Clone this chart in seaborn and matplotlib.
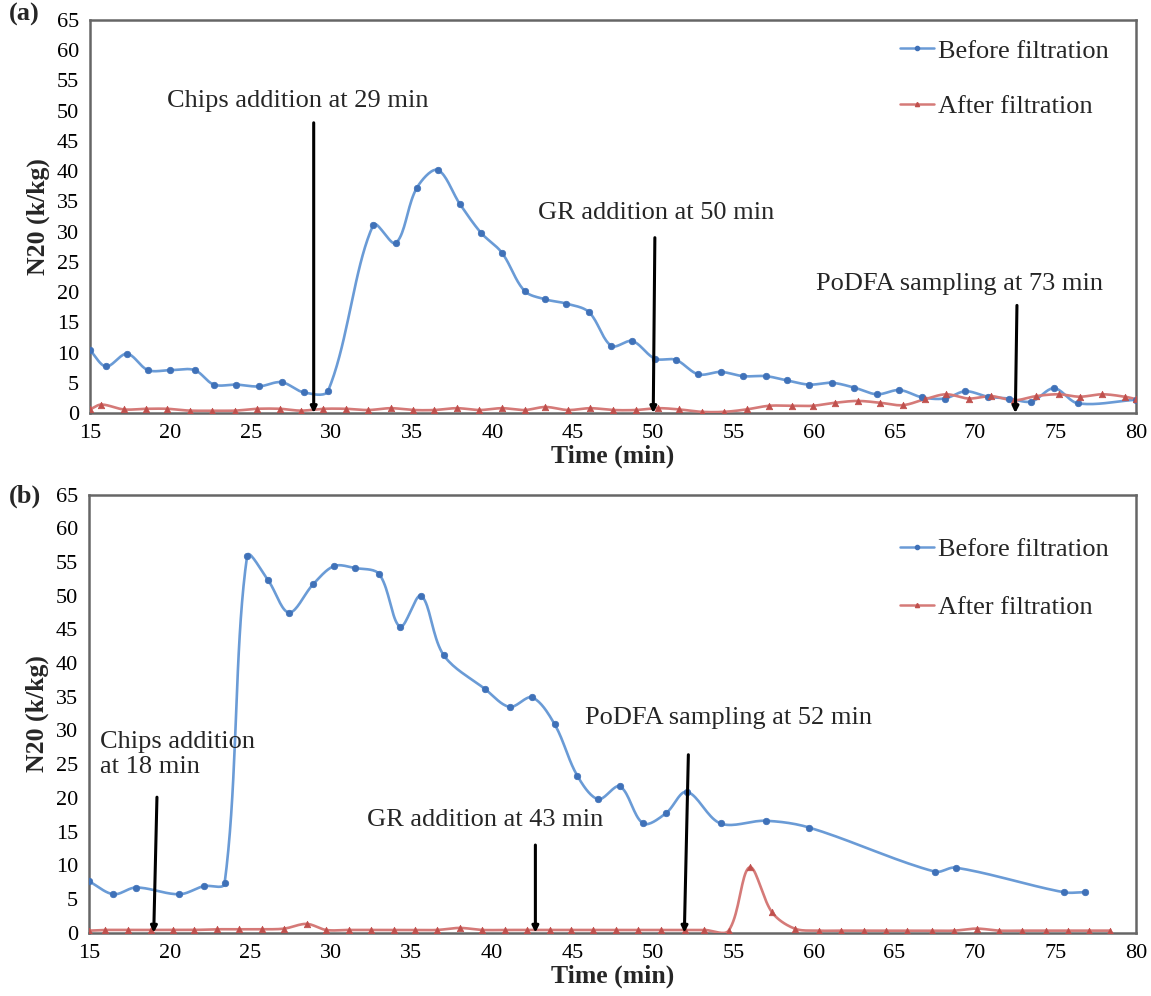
import numpy as np
import pandas as pd
import matplotlib
matplotlib.use("Agg")
import matplotlib.pyplot as plt
import seaborn as sns
from matplotlib.lines import Line2D

# ---------------- data ----------------
a_before_x = [15.0, 16.0, 17.3, 18.6, 20.0, 21.5, 22.7, 24.1, 25.5, 26.9, 28.3, 29.8,
              32.6, 34.0, 35.3, 36.6, 38.0, 39.3, 40.6, 42.0, 43.3, 44.6, 46.0, 47.4,
              48.7, 50.1, 51.4, 52.8, 54.2, 55.6, 57.0, 58.3, 59.7, 61.1, 62.5, 63.9,
              65.3, 66.7, 68.1, 69.4, 70.8, 72.1, 73.5, 74.9, 76.4, 80.0]
a_before_y = [10.4, 7.7, 9.8, 7.1, 7.1, 7.1, 4.7, 4.7, 4.4, 5.1, 3.4, 3.7,
              31.1, 28.1, 37.2, 40.2, 34.5, 29.8, 26.5, 20.2, 18.8, 18.1, 16.7, 11.1,
              11.9, 9.0, 8.8, 6.4, 6.8, 6.1, 6.1, 5.4, 4.7, 5.0, 4.2, 3.1,
              3.8, 2.6, 2.4, 3.6, 2.7, 2.4, 1.9, 4.1, 1.6, 2.2]

a_after_x = [15.0, 15.7, 17.1, 18.5, 19.8, 21.2, 22.6, 24.0, 25.4, 26.8, 28.1, 29.5,
             30.9, 32.3, 33.7, 35.1, 36.4, 37.8, 39.2, 40.6, 42.0, 43.3, 44.7, 46.1,
             47.5, 48.9, 50.3, 51.6, 53.0, 54.4, 55.8, 57.2, 58.6, 59.9, 61.3, 62.7,
             64.1, 65.5, 66.9, 68.2, 69.6, 71.0, 72.4, 73.8, 75.2, 76.5, 77.9, 79.3, 80.0]
a_after_y = [0.6, 1.4, 0.6, 0.7, 0.7, 0.4, 0.4, 0.4, 0.7, 0.7, 0.4, 0.7,
             0.7, 0.5, 0.8, 0.5, 0.5, 0.8, 0.5, 0.8, 0.5, 1.0, 0.5, 0.8,
             0.5, 0.5, 0.8, 0.6, 0.2, 0.2, 0.6, 1.2, 1.2, 1.2, 1.7, 2.0,
             1.7, 1.3, 2.3, 3.1, 2.4, 2.8, 2.1, 2.8, 3.1, 2.7, 3.1, 2.7, 2.3]

b_before_x = [15.0, 16.5, 17.9, 20.6, 22.1, 23.4, 24.8, 26.1, 27.4, 28.9, 30.2, 31.5,
              33.0, 34.3, 35.6, 37.0, 39.6, 41.1, 42.5, 43.9, 45.3, 46.6, 47.95, 49.4,
              50.8, 52.1, 54.2, 57.0, 59.7, 67.5, 68.8, 75.5, 76.8]
b_before_y = [7.6, 5.7, 6.7, 5.7, 6.9, 7.3, 55.9, 52.3, 47.5, 51.7, 54.4, 54.1,
              53.2, 45.4, 50.0, 41.2, 36.1, 33.5, 34.9, 30.9, 23.3, 19.8, 21.7, 16.2,
              17.7, 20.9, 16.2, 16.6, 15.6, 9.05, 9.65, 6.0, 6.0]

b_after_x = [15.0, 16.0, 17.4, 18.8, 20.2, 21.5, 22.9, 24.3, 25.7, 27.1, 28.5, 29.7,
             31.1, 32.5, 33.9, 35.2, 36.6, 38.0, 39.4, 40.8, 42.2, 43.6, 44.9, 46.3,
             47.7, 49.1, 50.5, 52.0, 53.2, 54.7, 56.0, 57.4, 58.8, 60.3, 61.7, 63.1,
             64.5, 65.8, 67.3, 68.7, 70.1, 71.5, 72.9, 74.4, 75.8, 77.1, 78.4]
b_after_y = [0.3, 0.4, 0.4, 0.4, 0.4, 0.4, 0.5, 0.5, 0.5, 0.6, 1.3, 0.4,
             0.4, 0.4, 0.4, 0.4, 0.4, 0.7, 0.4, 0.4, 0.4, 0.4, 0.4, 0.4,
             0.4, 0.4, 0.4, 0.4, 0.4, 0.3, 9.7, 3.0, 0.6, 0.3, 0.3, 0.3,
             0.3, 0.3, 0.3, 0.3, 0.6, 0.3, 0.3, 0.3, 0.3, 0.3, 0.3]

x_ticks = [15, 20, 25, 30, 35, 40, 45, 50, 55, 60, 65, 70, 75, 80]
y_ticks = [0, 5, 10, 15, 20, 25, 30, 35, 40, 45, 50, 55, 60, 65]
series_labels = ["Before filtration", "After filtration"]

# ---------------- style ----------------
sns.set_style("white")
plt.rcParams['font.family'] = ['Liberation Serif', 'DejaVu Serif']

BLUE_LINE, BLUE_MK = "#6a9bd6", "#3f71b8"
RED_LINE, RED_MK = "#d57a78", "#c0504d"
SPINE = "#666666"


def smooth(xs, ys, sx, sy, n=20):
    """Excel-like smoothed line rendering: Bezier through the data points with
    control-point distances proportional to the on-screen segment lengths."""
    p = np.column_stack([np.asarray(xs) * sx, np.asarray(ys) * sy]).astype(float)
    out = [p[0]]
    k = 1.0 / 3.0
    for i in range(len(p) - 1):
        p0 = p[i - 1] if i > 0 else p[i]
        p1, p2 = p[i], p[i + 1]
        p3 = p[i + 2] if i + 2 < len(p) else p[i + 1]
        d01 = np.linalg.norm(p1 - p0)
        d12 = np.linalg.norm(p2 - p1)
        d23 = np.linalg.norm(p3 - p2)
        f1 = d12 / (d01 + d12) if d01 + d12 > 0 else 0
        f2 = d12 / (d12 + d23) if d12 + d23 > 0 else 0
        c1 = p1 + (p2 - p0) * k * f1
        c2 = p2 - (p3 - p1) * k * f2
        t = np.linspace(0, 1, n)[1:, None]
        seg = ((1 - t) ** 3) * p1 + 3 * ((1 - t) ** 2) * t * c1 + 3 * (1 - t) * t ** 2 * c2 + t ** 3 * p2
        out.extend(seg)
    out = np.array(out)
    return pd.DataFrame({"x": out[:, 0] / sx, "y": out[:, 1] / sy})


def draw_series(ax, xs, ys, lc, mc, marker, sy):
    d = smooth(xs, ys, 16.09, sy)
    sns.lineplot(data=d, x="x", y="y", sort=False, estimator=None, ax=ax,
                 color=lc, lw=1.9, zorder=3)
    sns.scatterplot(x=xs, y=ys, ax=ax, color=mc, marker=marker, s=22,
                    edgecolor=mc, linewidth=0.5, zorder=4)


def style_axes(ax):
    ax.set_xlim(15, 80)
    ax.set_ylim(0, 65)
    ax.set_xticks(x_ticks)
    ax.set_yticks(y_ticks)
    for s in ax.spines.values():
        s.set_visible(True)
        s.set_color(SPINE)
        s.set_linewidth(1.8)
    ax.tick_params(axis="both", direction="out", length=5, width=1.5,
                   color=SPINE, labelsize=16, labelcolor="black", pad=3)
    ax.set_xlabel("Time (min)", fontsize=18.5, fontweight="bold", labelpad=1)
    ax.set_ylabel("N20 (k/kg)", fontsize=18.5, fontweight="bold", labelpad=5)


def add_legend(ax, y_anchor, spacing):
    handles = [Line2D([0], [0], color=BLUE_LINE, lw=1.8, marker="o", ms=3,
                      markerfacecolor=BLUE_MK, markeredgecolor=BLUE_MK),
               Line2D([0], [0], color=RED_LINE, lw=1.8, marker="^", ms=3,
                      markerfacecolor=RED_MK, markeredgecolor=RED_MK)]
    ax.legend(handles, series_labels, loc="upper left", bbox_to_anchor=(0.764, y_anchor),
              frameon=False, fontsize=19, handlelength=1.3, handletextpad=0.15,
              labelspacing=spacing, borderaxespad=0)


def arrow(ax, x0, y0, x1, y1):
    ax.annotate("", xy=(x1, y1), xytext=(x0, y0),
                arrowprops=dict(arrowstyle="-|>", color="black", lw=2.2,
                                mutation_scale=9, shrinkA=0, shrinkB=0), zorder=5)


fig = plt.figure(figsize=(11.51, 9.96), dpi=100)
ax_a = fig.add_axes([0.0782, 0.5853, 0.9088, 0.3946])
ax_b = fig.add_axes([0.0776, 0.0636, 0.9094, 0.4398])

# ---- panel (a) ----
draw_series(ax_a, a_before_x, a_before_y, BLUE_LINE, BLUE_MK, "o", 6.07)
draw_series(ax_a, a_after_x, a_after_y, RED_LINE, RED_MK, "^", 6.07)
style_axes(ax_a)
add_legend(ax_a, 0.978, 1.22)
ax_a.text(27.9, 51.6, "Chips addition at 29 min", fontsize=19, ha="center", va="center")
arrow(ax_a, 28.9, 48.0, 28.9, 0.0)
ax_a.text(50.2, 33.1, "GR addition at 50 min", fontsize=19, ha="center", va="center")
arrow(ax_a, 50.1, 29.0, 50.0, 0.0)
ax_a.text(69.0, 21.4, "PoDFA sampling at 73 min", fontsize=19, ha="center", va="center")
arrow(ax_a, 72.6, 17.8, 72.5, 0.0)

# ---- panel (b) ----
draw_series(ax_b, b_before_x, b_before_y, BLUE_LINE, BLUE_MK, "o", 6.74)
draw_series(ax_b, b_after_x, b_after_y, RED_LINE, RED_MK, "^", 6.74)
style_axes(ax_b)
add_legend(ax_b, 0.925, 1.3)
ax_b.text(15.65, 26.4, "Chips addition\nat 18 min", fontsize=19, ha="left", va="center",
          linespacing=1.15)
arrow(ax_b, 19.2, 20.1, 19.0, 0.0)
ax_b.text(39.6, 16.7, "GR addition at 43 min", fontsize=19, ha="center", va="center")
arrow(ax_b, 42.7, 13.0, 42.7, 0.0)
ax_b.text(54.7, 31.9, "PoDFA sampling at 52 min", fontsize=19, ha="center", va="center")
arrow(ax_b, 52.2, 26.4, 51.95, 0.0)

fig.text(0.008, 0.985, "(a)", fontsize=19, fontweight="bold", ha="left", va="center")
fig.text(0.008, 0.502, "(b)", fontsize=19, fontweight="bold", ha="left", va="center")

fig.savefig("out.png", dpi=100, facecolor="white")
